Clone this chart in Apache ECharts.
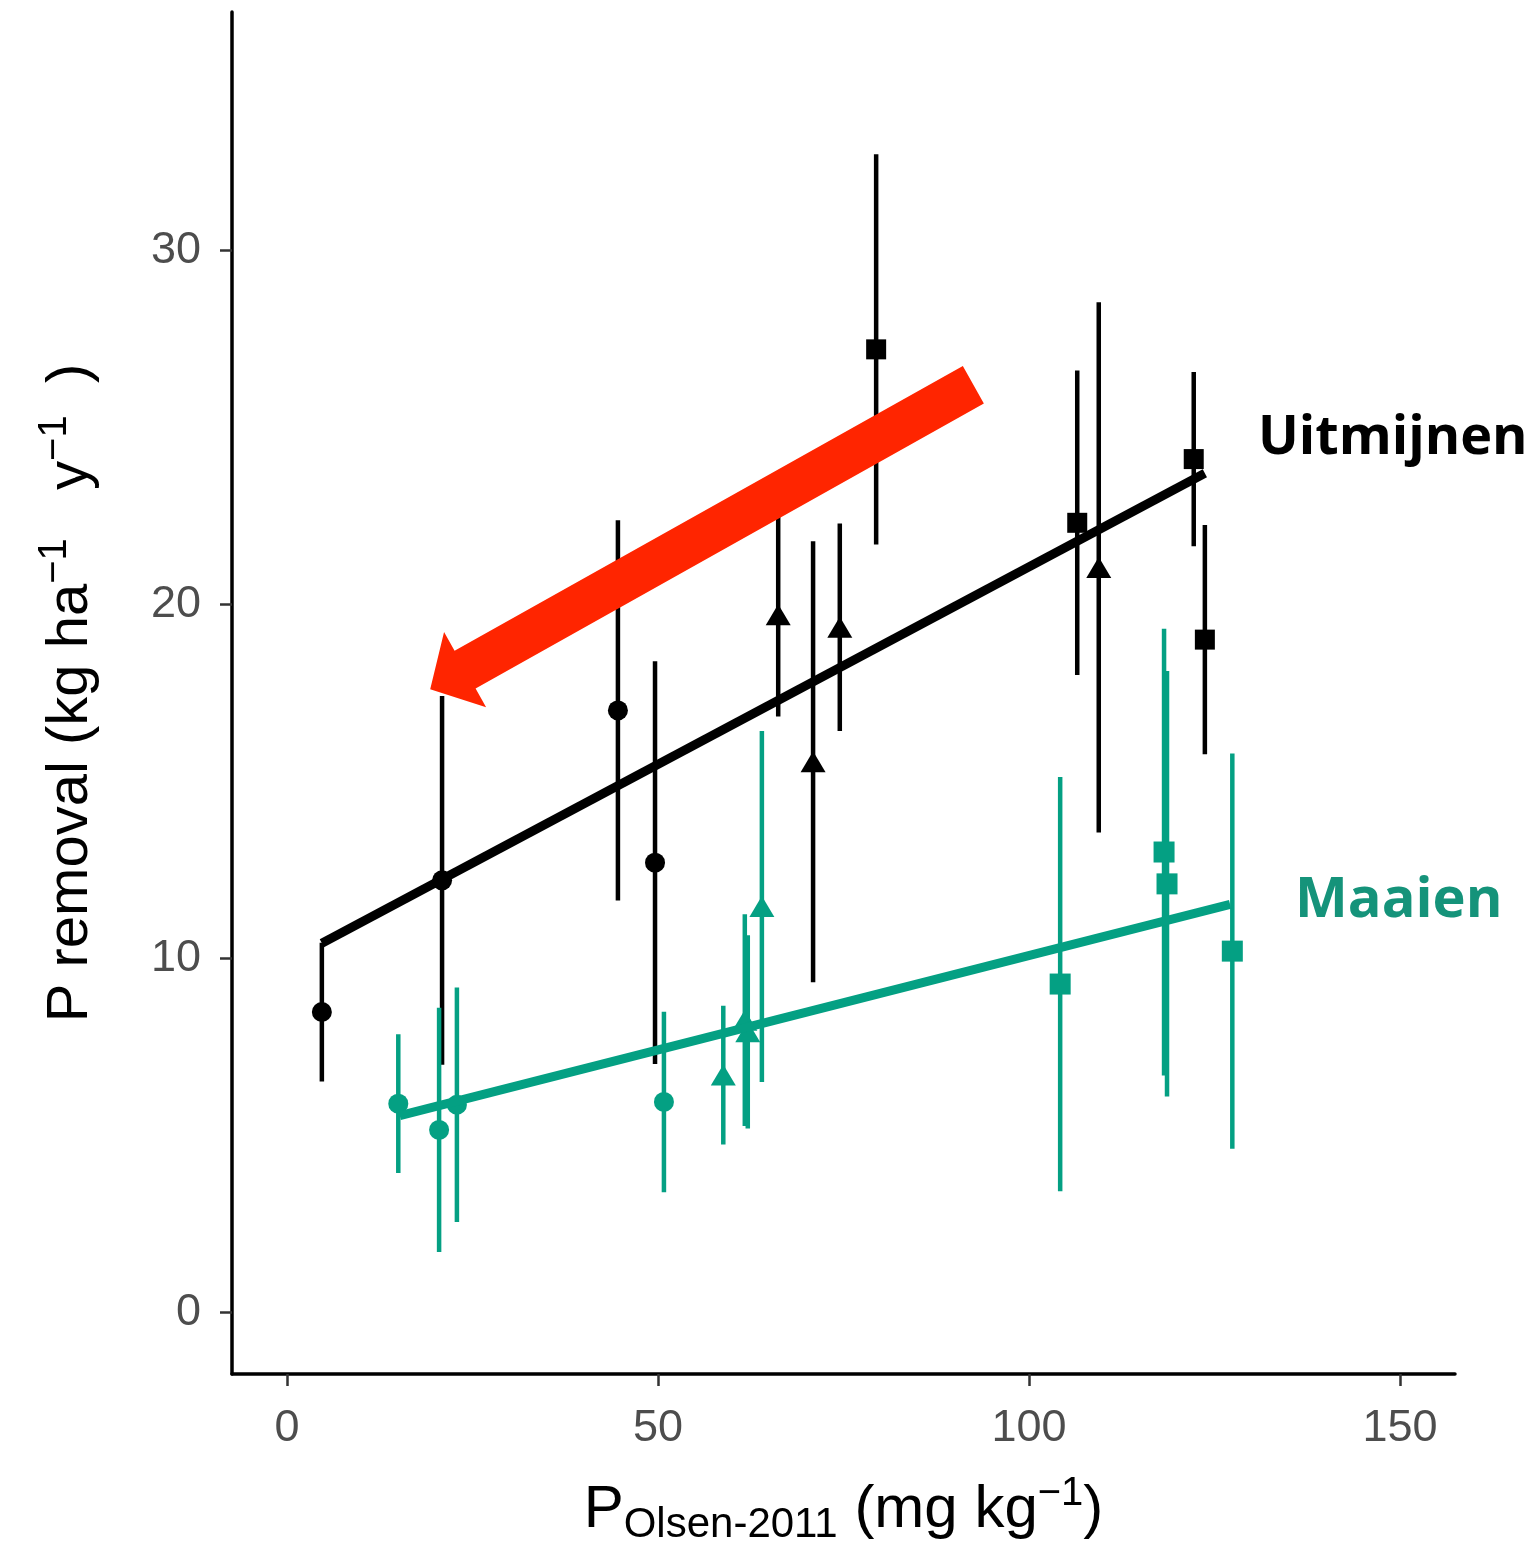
<!DOCTYPE html>
<html>
<head>
<meta charset="utf-8">
<title>P removal vs P Olsen-2011</title>
<script src="https://cdn.jsdelivr.net/npm/echarts@6/dist/echarts.min.js"></script>
<style>
  html, body { margin: 0; padding: 0; background: #fff; }
  #chart { width: 1540px; height: 1551px; }
</style>
</head>
<body>
<div id="chart"></div>
<script>
// Uitmijnen (zwart)
var uitCircleX = [4.7, 20.9, 44.6, 49.6];
var uitCircleY = [8.48, 12.2, 17.0, 12.7];
var uitCircleErr = [1.96, 5.21, 5.37, 5.69];
var uitTriX = [66.2, 70.9, 74.5, 109.4];
var uitTriY = [19.7, 15.55, 19.35, 21.04];
var uitTriErr = [2.87, 6.23, 2.93, 7.49];
var uitRectX = [79.4, 106.5, 122.2, 123.7];
var uitRectY = [27.2, 22.3, 24.1, 19.0];
var uitRectErr = [5.51, 4.30, 2.46, 3.24];
var uitLineX = [4.7, 123.7];
var uitLineY = [10.42, 23.7];

// Maaien (groen)
var maaCircleX = [15.0, 20.5, 22.9, 50.8];
var maaCircleY = [5.89, 5.15, 5.86, 5.94];
var maaCircleErr = [1.96, 3.45, 3.31, 2.55];
var maaTriX = [58.8, 61.7, 62.1, 64.0];
var maaTriY = [6.70, 8.25, 7.92, 11.46];
var maaTriErr = [1.96, 2.99, 2.73, 4.96];
var maaRectX = [104.2, 118.2, 118.6, 127.4];
var maaRectY = [9.27, 13.0, 12.1, 10.2];
var maaRectErr = [5.85, 6.31, 6.01, 5.58];
var maaLineX = [15.2, 127.1];
var maaLineY = [5.55, 11.52];

// pijl (van -> naar), in data-eenheden
var arrowFrom = [92.5, 26.2];
var arrowTo = [19.3, 17.6];

var xTicks = [0, 50, 100, 150];
var yTicks = [0, 10, 20, 30];

var BLACK = '#000000';
var TEAL = '#04A083';

function pts(xs, ys) {
  return xs.map(function (x, i) { return [x, ys[i]]; });
}
function bars(xs, ys, es) {
  return xs.map(function (x, i) { return [x, ys[i] - es[i], ys[i] + es[i]]; });
}

function errSeries(data, color) {
  return {
    type: 'custom',
    data: data,
    renderItem: function (params, api) {
      var a = api.coord([api.value(0), api.value(1)]);
      var b = api.coord([api.value(0), api.value(2)]);
      return {
        type: 'line',
        shape: { x1: a[0], y1: a[1], x2: b[0], y2: b[1] },
        style: { stroke: color, lineWidth: 4.5 }
      };
    },
    z: 2
  };
}

function pointSeries(data, symbol, size, color) {
  return {
    type: 'scatter',
    data: data,
    symbol: symbol,
    symbolSize: size,
    itemStyle: { color: color, opacity: 1 },
    z: 3
  };
}

function lineSeries(data, color) {
  return {
    type: 'line',
    data: data,
    showSymbol: false,
    lineStyle: { color: color, width: 9 },
    z: 4
  };
}

var chart = echarts.init(document.getElementById('chart'));

var option = {
  animation: false,
  backgroundColor: '#fff',
  grid: { left: 232, right: 85, top: 12, bottom: 173 },
  xAxis: {
    type: 'value',
    min: -7.41,
    max: 157.41,
    splitLine: { show: false },
    axisLine: { onZero: false, lineStyle: { color: '#000', width: 3.5 } },
    axisTick: { customValues: xTicks, length: 12, lineStyle: { color: '#333', width: 2.5 } },
    axisLabel: {
      customValues: xTicks,
      margin: 32,
      fontSize: 45,
      fontFamily: 'Liberation Sans',
      color: '#4D4D4D'
    },
    name: 'P{sub|Olsen-2011} (mg kg{sup|−1})',
    nameLocation: 'middle',
    nameGap: 100,
    nameTextStyle: {
      fontSize: 60,
      fontFamily: 'Liberation Sans',
      color: '#000',
      lineHeight: 72,
      rich: {
        sub: { fontSize: 42, lineHeight: 42, fontFamily: 'Liberation Sans', color: '#000', verticalAlign: 'bottom' },
        sup: { fontSize: 40, lineHeight: 40, fontFamily: 'Liberation Sans', color: '#000', verticalAlign: 'top' }
      }
    }
  },
  yAxis: {
    type: 'value',
    min: -1.746,
    max: 36.73,
    splitLine: { show: false },
    axisLine: { onZero: false, lineStyle: { color: '#000', width: 3.5 } },
    axisTick: { customValues: yTicks, length: 12, lineStyle: { color: '#333', width: 2.5 } },
    axisLabel: {
      customValues: yTicks,
      margin: 31,
      fontSize: 45,
      fontFamily: 'Liberation Sans',
      color: '#4D4D4D'
    },
    name: 'P removal (kg ha{sup|−1}   y{sup|−1}  )',
    nameLocation: 'middle',
    nameRotate: 90,
    nameGap: 125,
    nameTextStyle: {
      fontSize: 58,
      fontFamily: 'Liberation Sans',
      color: '#000',
      lineHeight: 72,
      rich: {
        sup: { fontSize: 40, lineHeight: 40, fontFamily: 'Liberation Sans', color: '#000', verticalAlign: 'top' }
      }
    }
  },
  graphic: [
    {
      type: 'text', x: 1258, y: 439, z: 10,
      style: { text: 'Uitmijnen', fill: '#000', font: 'bold 54px "Open Sans"', verticalAlign: 'middle' }
    },
    {
      type: 'text', x: 1295, y: 901, z: 10,
      style: { text: 'Maaien', fill: '#15937A', font: 'bold 56px "Open Sans"', verticalAlign: 'middle' }
    }
  ],
  series: [
    errSeries(bars(uitCircleX, uitCircleY, uitCircleErr), BLACK),
    errSeries(bars(uitTriX, uitTriY, uitTriErr), BLACK),
    errSeries(bars(uitRectX, uitRectY, uitRectErr), BLACK),
    pointSeries(pts(uitCircleX, uitCircleY), 'circle', 20, BLACK),
    pointSeries(pts(uitTriX, uitTriY), 'triangle', [25, 21], BLACK),
    pointSeries(pts(uitRectX, uitRectY), 'rect', 20, BLACK),
    lineSeries(pts(uitLineX, uitLineY), BLACK),
    errSeries(bars(maaCircleX, maaCircleY, maaCircleErr), TEAL),
    errSeries(bars(maaTriX, maaTriY, maaTriErr), TEAL),
    errSeries(bars(maaRectX, maaRectY, maaRectErr), TEAL),
    pointSeries(pts(maaCircleX, maaCircleY), 'circle', 20, TEAL),
    pointSeries(pts(maaTriX, maaTriY), 'triangle', [25, 21], TEAL),
    pointSeries(pts(maaRectX, maaRectY), 'rect', 21, TEAL),
    lineSeries(pts(maaLineX, maaLineY), TEAL),
    {
      // rode pijl
      type: 'custom',
      data: [[arrowFrom[0], arrowFrom[1], arrowTo[0], arrowTo[1]]],
      z: 8,
      renderItem: function (params, api) {
        var t = api.coord([api.value(0), api.value(1)]);
        var p = api.coord([api.value(2), api.value(3)]);
        var dx = p[0] - t[0], dy = p[1] - t[1];
        var len = Math.sqrt(dx * dx + dy * dy);
        var ux = dx / len, uy = dy / len;
        var nx = -uy, ny = ux;
        var w = 21.5, hw = 43, hl = 40;
        var bx = p[0] - ux * hl, by = p[1] - uy * hl;
        var poly = [
          [t[0] + nx * w, t[1] + ny * w],
          [bx + nx * w, by + ny * w],
          [bx + nx * hw, by + ny * hw],
          [p[0], p[1]],
          [bx - nx * hw, by - ny * hw],
          [bx - nx * w, by - ny * w],
          [t[0] - nx * w, t[1] - ny * w]
        ];
        return {
          type: 'polygon',
          shape: { points: poly },
          style: { fill: '#FF2500' }
        };
      }
    }
  ]
};

chart.setOption(option);
</script>
</body>
</html>
